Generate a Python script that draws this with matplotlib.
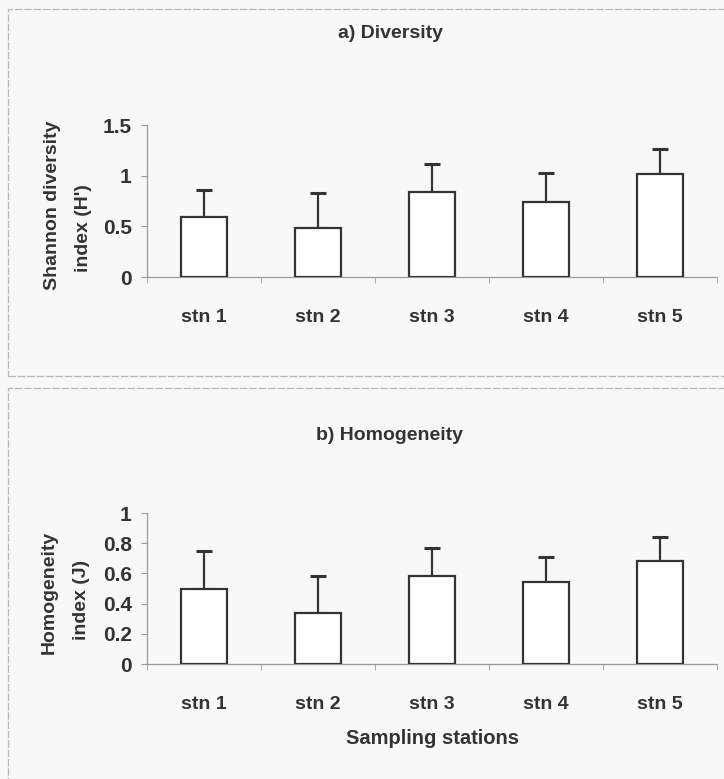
import numpy as np
import matplotlib.pyplot as plt
from matplotlib.patches import Rectangle

stations = ['stn 1', 'stn 2', 'stn 3', 'stn 4', 'stn 5']

# Shannon diversity (H') means and upper error bars
diversity = [0.59, 0.48, 0.84, 0.74, 1.02]
diversity_err = [0.27, 0.35, 0.28, 0.29, 0.24]

# Homogeneity (J) means and upper error bars
homogeneity = [0.50, 0.34, 0.58, 0.54, 0.68]
homogeneity_err = [0.25, 0.24, 0.19, 0.17, 0.16]

plt.rcParams['font.family'] = ['Liberation Sans', 'DejaVu Sans']
plt.rcParams['font.weight'] = 'bold'

ink = '#333333'
axis_grey = '#9a9a9a'

W, H = 724, 779
fig = plt.figure(figsize=(W / 100, H / 100), dpi=100)
fig.patch.set_facecolor('#f8f8f6')

# light frames around each panel
for y0, h in [(0.517, 0.471), (-0.05, 0.552)]:
    fig.add_artist(Rectangle((0.011, y0), 1.2, h, transform=fig.transFigure,
                             fill=False, edgecolor='#b8b8b8', linewidth=0.9,
                             linestyle=(0, (6, 1.5))))


def label(px, py, s, **kw):
    # place text using pixel positions measured from the top-left corner
    fig.text(px / W, 1 - py / H, s, ha='center', va='center',
             fontweight='bold', color=ink, **kw)


def panel(rect, vals, errs, ylim, ticks, ticklabels):
    ax = fig.add_axes(rect)
    ax.set_facecolor('none')
    x = np.arange(len(stations))
    ax.bar(x, vals, width=0.4, color='white', edgecolor=ink, linewidth=1.6,
           zorder=3)
    ax.errorbar(x, vals, yerr=[np.zeros(len(errs)), errs], fmt='none',
                ecolor=ink, elinewidth=1.6, capsize=6, capthick=2.2, zorder=2)
    ax.set_xlim(-0.5, len(stations) - 0.5)
    ax.set_ylim(*ylim)
    ax.set_yticks(ticks)
    ax.set_yticklabels(ticklabels)
    ax.set_xticks(x)
    ax.set_xticklabels(stations)
    ax.set_xticks(np.arange(len(stations) + 1) - 0.5, minor=True)
    ax.tick_params(axis='x', which='major', length=0, pad=23, labelsize=14,
                   labelcolor=ink)
    ax.tick_params(axis='x', which='minor', length=4, direction='out',
                   color=axis_grey)
    ax.tick_params(axis='y', length=4, direction='out', color=axis_grey,
                   pad=7, labelsize=15, labelcolor=ink)
    for s in ['top', 'right']:
        ax.spines[s].set_visible(False)
    for s in ['left', 'bottom']:
        ax.spines[s].set_color(axis_grey)
        ax.spines[s].set_linewidth(0.9)
    return ax


panel([0.203, 0.6444, 0.787, 0.195], diversity, diversity_err, (0, 1.5),
      [0, 0.5, 1, 1.5], ['0', '0.5', '1', '1.5'])
label(390, 33, 'a) Diversity', fontsize=14)
label(53, 205, 'Shannon diversity', fontsize=14, rotation=90)
label(83, 228, "index (H')", fontsize=14, rotation=90)

panel([0.203, 0.1476, 0.787, 0.1938], homogeneity, homogeneity_err, (0, 1),
      [0, 0.2, 0.4, 0.6, 0.8, 1], ['0', '0.2', '0.4', '0.6', '0.8', '1'])
label(390, 436, 'b) Homogeneity', fontsize=14)
label(49, 592, 'Homogeneity', fontsize=14, rotation=90)
label(81, 600, 'index (J)', fontsize=14, rotation=90)

label(432, 738, 'Sampling stations', fontsize=14.5)

fig.savefig('out.png', dpi=100, facecolor=fig.get_facecolor())
